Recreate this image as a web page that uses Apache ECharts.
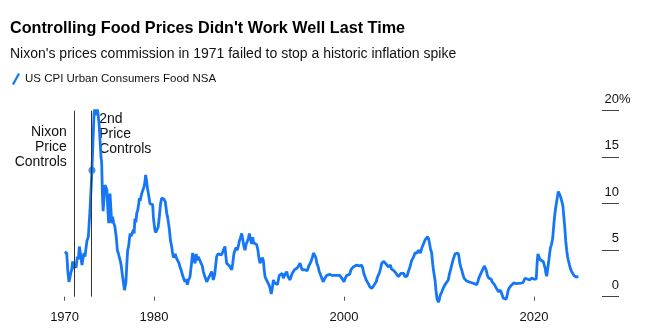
<!DOCTYPE html>
<html>
<head>
<meta charset="utf-8">
<script src="https://cdn.jsdelivr.net/npm/echarts@6/dist/echarts.min.js"></script>
<style>
html,body{margin:0;padding:0;background:#fff;}
#c{width:649px;height:336px;}
</style>
</head>
<body>
<div id="c"></div>
<script>
// ---- data (decimal year, YoY % change) ----
const years = [1970.6,1970.7,1970.82,1970.95,1971.06,1971.15,1971.24,1971.35,1971.45,1971.55,1971.7,1971.8,1971.94,1972.05,1972.15,1972.3,1972.43,1972.55,1972.64,1972.75,1972.85,1972.95,1973.1,1973.27,1973.38,1973.48,1973.59,1973.7,1973.8,1973.9,1974.0,1974.15,1974.25,1974.33,1974.43,1974.5,1974.58,1974.65,1974.75,1974.85,1974.96,1975.05,1975.15,1975.24,1975.32,1975.38,1975.47,1975.56,1975.65,1975.75,1975.9,1976.05,1976.15,1976.25,1976.4,1976.5,1976.6,1976.7,1976.8,1976.9,1976.96,1977.05,1977.15,1977.24,1977.35,1977.42,1977.5,1977.6,1977.7,1977.85,1977.92,1978.0,1978.1,1978.2,1978.3,1978.4,1978.47,1978.55,1978.65,1978.75,1978.85,1978.96,1979.05,1979.13,1979.22,1979.32,1979.41,1979.5,1979.59,1979.7,1979.8,1979.87,1979.95,1980.1,1980.2,1980.36,1980.45,1980.57,1980.7,1980.82,1980.95,1981.05,1981.2,1981.35,1981.45,1981.55,1981.63,1981.75,1981.87,1981.95,1982.05,1982.12,1982.25,1982.35,1982.5,1982.64,1982.75,1982.85,1982.93,1983.05,1983.15,1983.27,1983.4,1983.52,1983.65,1983.8,1983.95,1984.08,1984.2,1984.33,1984.45,1984.55,1984.67,1984.8,1984.96,1985.1,1985.2,1985.35,1985.45,1985.56,1985.73,1985.85,1986.08,1986.25,1986.4,1986.6,1986.75,1986.96,1987.1,1987.25,1987.35,1987.48,1987.56,1987.66,1987.8,1987.95,1988.05,1988.19,1988.3,1988.42,1988.54,1988.65,1988.75,1988.88,1989.0,1989.1,1989.24,1989.35,1989.45,1989.59,1989.7,1989.85,1989.95,1990.05,1990.12,1990.2,1990.3,1990.4,1990.5,1990.6,1990.7,1990.82,1990.95,1991.05,1991.17,1991.3,1991.4,1991.52,1991.6,1991.7,1991.85,1992.0,1992.15,1992.25,1992.35,1992.4,1992.48,1992.57,1992.7,1992.85,1993.0,1993.1,1993.2,1993.27,1993.4,1993.5,1993.62,1993.75,1993.85,1993.98,1994.1,1994.2,1994.33,1994.45,1994.55,1994.67,1994.8,1994.9,1995.0,1995.1,1995.25,1995.38,1995.5,1995.6,1995.73,1995.85,1996.0,1996.15,1996.3,1996.43,1996.55,1996.7,1996.8,1996.96,1997.05,1997.15,1997.3,1997.4,1997.5,1997.6,1997.7,1997.83,1997.95,1998.05,1998.19,1998.35,1998.5,1998.6,1998.72,1998.85,1999.0,1999.1,1999.24,1999.4,1999.55,1999.65,1999.77,1999.9,2000.01,2000.15,2000.3,2000.46,2000.6,2000.75,2000.85,2000.99,2001.1,2001.2,2001.35,2001.5,2001.65,2001.75,2001.87,2002.0,2002.1,2002.22,2002.35,2002.45,2002.57,2002.7,2002.8,2002.93,2003.05,2003.15,2003.27,2003.4,2003.5,2003.62,2003.75,2003.85,2003.98,2004.1,2004.2,2004.33,2004.45,2004.55,2004.67,2004.8,2004.9,2005.0,2005.1,2005.25,2005.38,2005.5,2005.6,2005.73,2005.85,2006.0,2006.08,2006.2,2006.3,2006.43,2006.55,2006.65,2006.78,2006.9,2007.0,2007.14,2007.25,2007.35,2007.48,2007.6,2007.7,2007.83,2007.95,2008.05,2008.19,2008.3,2008.4,2008.54,2008.65,2008.72,2008.82,2008.92,2009.0,2009.1,2009.24,2009.35,2009.45,2009.59,2009.69,2009.8,2009.94,2010.05,2010.15,2010.3,2010.45,2010.64,2010.8,2010.99,2011.1,2011.25,2011.35,2011.5,2011.6,2011.7,2011.85,2012.0,2012.1,2012.2,2012.3,2012.4,2012.55,2012.65,2012.75,2012.9,2013.05,2013.15,2013.27,2013.45,2013.6,2013.75,2013.9,2013.98,2014.1,2014.2,2014.33,2014.45,2014.55,2014.7,2014.8,2014.9,2015.0,2015.1,2015.25,2015.38,2015.5,2015.6,2015.73,2015.85,2016.0,2016.08,2016.2,2016.3,2016.43,2016.55,2016.65,2016.78,2016.9,2017.06,2017.15,2017.3,2017.45,2017.55,2017.66,2017.8,2017.9,2018.01,2018.12,2018.25,2018.36,2018.5,2018.6,2018.75,2018.85,2018.95,2019.06,2019.2,2019.3,2019.41,2019.55,2019.65,2019.77,2019.9,2020.0,2020.12,2020.25,2020.33,2020.42,2020.5,2020.64,2020.75,2020.85,2020.99,2021.1,2021.2,2021.27,2021.35,2021.45,2021.55,2021.65,2021.75,2021.85,2021.98,2022.1,2022.22,2022.33,2022.45,2022.57,2022.65,2022.75,2022.85,2022.93,2023.05,2023.15,2023.27,2023.35,2023.45,2023.55,2023.62,2023.75,2023.85,2023.98,2024.1,2024.2,2024.33,2024.45,2024.55,2024.68];
const values = [4.8,4.9,4.7,2.6,1.6,2.0,2.5,2.9,3.8,3.0,3.4,3.1,4.3,4.0,5.4,4.4,3.4,4.2,4.7,4.3,5.2,6.0,6.45,9.3,11.5,13.6,16.8,19.7,20.3,19.5,20.5,19.4,18.3,16.8,15.05,14.5,11.0,9.2,10.5,12.0,11.8,11.5,9.5,7.9,9.5,11.1,9.5,7.9,8.6,8.0,7.5,6.3,5.0,4.7,4.8,3.7,3.0,2.2,1.5,0.7,0.54,1.5,3.5,5.0,5.5,6.2,6.8,6.5,6.8,7.2,6.8,8.4,8.0,9.0,9.3,10.0,10.6,10.3,10.8,11.2,11.0,11.8,12.3,13.1,12.5,11.7,11.5,10.6,10.0,9.9,10.2,9.9,8.5,7.2,6.9,6.8,7.5,8.6,10.0,10.6,10.7,10.5,10.2,9.0,8.5,7.8,7.2,6.0,5.4,4.8,4.2,4.1,4.6,4.2,4.4,3.6,3.2,2.9,2.7,2.2,1.9,1.6,1.9,1.3,1.8,2.15,3.5,4.7,4.0,3.6,4.6,3.9,4.3,4.0,3.6,3.3,2.7,2.2,2.0,1.6,1.6,2.2,2.7,1.8,2.4,4.3,4.6,4.7,4.5,4.8,5.1,5.4,4.5,3.6,3.5,3.3,3.2,2.9,3.6,4.6,5.0,5.3,5.0,5.4,6.0,6.3,6.8,6.2,5.5,5.0,5.6,6.0,6.3,6.8,6.9,6.0,5.7,6.4,5.8,5.7,5.8,5.6,5.0,4.2,3.6,3.8,4.2,3.9,3.0,2.15,1.8,1.6,1.2,0.8,0.3,0.18,1.0,1.8,1.5,1.6,1.3,1.8,2.3,2.5,2.1,2.5,2.0,2.3,2.4,2.7,2.2,2.4,1.8,2.2,2.5,2.7,2.9,3.0,2.8,3.1,3.2,3.6,3.2,2.9,2.7,2.9,3.0,2.8,3.3,3.2,3.8,4.3,4.7,4.5,4.2,3.6,3.2,2.7,2.5,2.2,1.9,1.6,1.9,2.0,2.3,2.1,2.4,2.2,2.3,2.5,2.3,2.2,2.3,2.1,2.3,2.1,2.0,1.8,1.6,2.0,2.3,2.5,2.4,2.9,3.1,3.2,3.1,3.4,3.4,3.2,3.3,3.4,3.4,3.0,2.5,2.3,1.8,1.6,1.4,1.1,1.0,0.9,1.0,1.2,1.26,1.6,2.0,2.3,2.6,3.0,3.6,3.4,3.8,3.9,3.5,3.7,3.2,3.3,3.4,3.0,3.1,2.8,2.9,2.5,2.3,2.15,2.2,2.5,2.7,2.3,2.5,2.15,2.3,2.2,2.7,3.0,3.4,3.9,4.0,4.3,4.7,4.5,4.7,5.0,4.9,4.7,5.2,5.0,5.4,6.1,6.0,6.3,6.45,6.2,5.8,5.2,4.7,3.5,2.7,1.8,0.7,-0.2,-0.6,-0.3,0.2,0.5,0.9,1.3,1.5,1.8,2.4,3.0,3.4,4.0,4.3,4.6,4.7,4.7,4.4,3.6,3.2,2.9,2.3,2.0,1.8,1.7,1.7,1.6,1.6,1.5,1.4,1.4,1.2,1.3,1.6,2.0,2.3,2.5,2.8,3.0,3.3,3.2,2.8,2.3,2.0,1.8,1.9,1.6,1.6,1.3,1.0,0.9,0.8,0.5,0.72,0.5,0.3,-0.17,-0.2,-0.28,0.0,0.72,1.0,1.1,1.26,1.4,1.5,1.6,1.4,1.6,1.44,1.4,1.45,1.4,1.5,1.7,1.98,2.0,1.9,1.8,1.8,2.0,2.0,1.8,1.9,1.8,1.9,3.5,4.6,4.5,4.0,3.9,3.8,3.76,3.6,3.0,2.5,2.2,3.0,3.7,4.6,5.3,5.6,6.3,7.8,9.0,9.8,10.6,11.3,11.4,10.9,10.6,10.4,9.8,8.6,7.2,6.0,5.0,4.3,3.95,3.4,3.0,2.7,2.5,2.3,2.15,2.1,2.2,2.2];
const seriesName = 'US CPI Urban Consumers Food NSA';
const xTickYears = [years[0], 1980, 2000, 2020];
const yTickValues = [0, 5, 10, 15, 20];
const events = [
  { year: 1971.62, label: 'Nixon\nPrice\nControls' },
  { year: 1973.45, label: '2nd\nPrice\nControls' }
];
const highlight = [[1973.48, 13.6]];

const FONT = "'Liberation Sans', Arial, sans-serif";
const BLUE = '#1577f5';
const PCT_W = 11.6; // width reserved after the numbers for the '%' sign

const chart = echarts.init(document.getElementById('c'));
const option = {
  animation: false,
  backgroundColor: '#fff',
  textStyle: { fontFamily: FONT },
  title: [
    { text: 'Controlling Food Prices Didn\'t Work Well Last Time', left: 10, top: 21, padding: 0,
      textStyle: { fontFamily: FONT, fontSize: 16.2, fontWeight: 'bold', color: '#000' } },
    { text: 'Nixon\'s prices commission in 1971 failed to stop a historic inflation spike', left: 10, top: 47.5, padding: 0,
      textStyle: { fontFamily: FONT, fontSize: 14, fontWeight: 'normal', color: '#111' } }
  ],
  legend: {
    left: 12, top: 73, padding: 0, itemWidth: 8, itemHeight: 12, itemGap: 10,
    icon: 'path://M0,11 L6,0 L8,1 L2,12 Z',
    textStyle: { fontFamily: FONT, fontSize: 11.5, color: '#111' },
    data: [seriesName]
  },
  grid: { left: 58.9, right: 67.6, top: 110.7, bottom: 30, containLabel: false },
  xAxis: {
    type: 'value', min: 1970, max: 2025,
    axisLine: { show: false, onZero: true },
    axisTick: { show: true, length: 4, lineStyle: { color: '#555', width: 1 }, customValues: xTickYears },
    axisLabel: { customValues: xTickYears, formatter: v => String(Math.floor(v)), margin: 5,
      fontFamily: FONT, fontSize: 13, color: '#111' },
    splitLine: { show: false }
  },
  yAxis: {
    type: 'value', position: 'right', min: -1, max: 20, offset: 20.6,
    axisLine: { show: false },
    axisTick: { show: true, length: 17, customValues: yTickValues, lineStyle: { color: '#444', width: 1 } },
    axisLabel: {
      customValues: yTickValues, align: 'right', verticalAlign: 'bottom', margin: 17 + PCT_W,
      padding: [0, 0, 5, 0],
      fontFamily: FONT, fontSize: 13, color: '#111',
      formatter: v => '{n|' + v + '}{p|' + (v === 20 ? '%' : ' ') + '}',
      rich: {
        n: { fontFamily: FONT, fontSize: 13, color: '#111', align: 'right' },
        p: { width: PCT_W, align: 'right', fontFamily: FONT, fontSize: 13, color: '#111' }
      }
    },
    splitLine: { show: false }
  },
  series: [
    {
      name: seriesName, type: 'line', showSymbol: false, symbol: 'none',
      data: years.map((y, i) => [y, values[i]]),
      lineStyle: { color: BLUE, width: 2.8 }, itemStyle: { color: BLUE },
      z: 3,
      markLine: {
        silent: true, symbol: 'none', label: { show: false },
        lineStyle: { color: '#333', width: 1, type: 'solid' },
        data: events.map(e => [{ coord: [e.year, 20] }, { coord: [e.year, 0] }])
      }
    },
    {
      name: 'marker', type: 'scatter', data: highlight, symbolSize: 7,
      itemStyle: { color: BLUE }, z: 4, silent: true
    }
  ]
};
chart.setOption(option);

// annotation texts positioned from the event years through the axes
const graphics = [];
events.forEach((e, i) => {
  const p = chart.convertToPixel({ xAxisIndex: 0, yAxisIndex: 0 }, [e.year, 20]);
  if (i === 0) {
    graphics.push({ type: 'text', x: p[0] - 7.5, y: p[1] + 14, style: {
      text: e.label, align: 'right', verticalAlign: 'top', lineHeight: 14.8,
      font: '14px ' + FONT, fill: '#111' } });
  } else {
    graphics.push({ type: 'text', x: p[0] + 7.5, y: p[1] + 1, style: {
      text: e.label, align: 'left', verticalAlign: 'top', lineHeight: 14.8,
      font: '14px ' + FONT, fill: '#111' } });
  }
});
chart.setOption({ graphic: graphics });
</script>
</body>
</html>
